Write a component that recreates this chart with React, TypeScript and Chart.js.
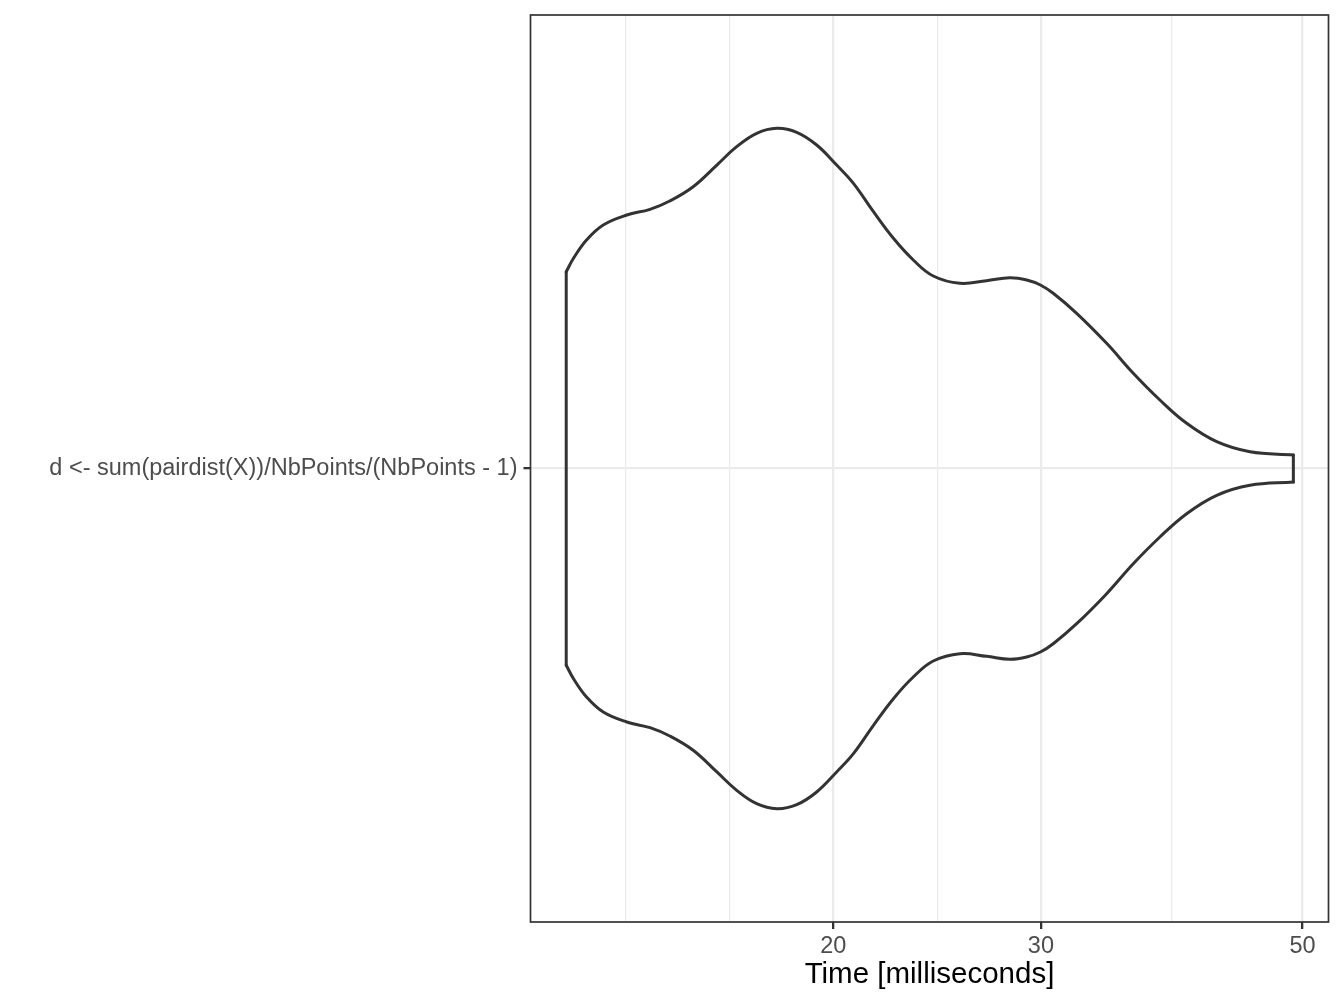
import { useEffect, useRef } from 'react';
import Chart from 'chart.js/auto';

// violin outline: time (ms) and half width (in category units)
const timeMs = [
  11.87, 12.04, 12.35, 12.76, 13.36, 13.98, 14.53, 15.21, 15.93, 16.56, 17.22, 17.91, 18.62, 19.36, 20.13, 20.8,
  21.63, 22.49, 23.38, 24.31, 25.61, 26.98, 28.24, 29.18, 29.97, 30.73, 32.17, 34.11, 35.93, 37.85, 39.88, 42.29,
  45.13, 49.12,
];
const halfWidth = [
  0.2604, 0.2781, 0.3023, 0.3222, 0.3354, 0.3429, 0.3539, 0.3728, 0.4015, 0.4258, 0.4435, 0.4501, 0.4448, 0.428,
  0.4015, 0.3773, 0.3398, 0.3046, 0.2759, 0.2547, 0.245, 0.2485, 0.2524, 0.2494, 0.2428, 0.2318, 0.2053, 0.1656,
  0.126, 0.0906, 0.0598, 0.0355, 0.0222, 0.0179,
];

const categories = ['d <- sum(pairdist(X))/NbPoints/(NbPoints - 1)'];
const majorTicks = [20, 30, 50];
const minorTicks = [13.333, 16.33, 24.495, 38.73];

const INK = '#333333';
const GRID = '#EBEBEB';
const FONT = "'Liberation Sans', Arial, sans-serif";

const panelBorder = {
  id: 'panelBorder',
  afterDraw(chart: any) {
    const { left, top, right, bottom } = chart.chartArea;
    const ctx = chart.ctx;
    ctx.save();
    ctx.strokeStyle = INK;
    ctx.lineWidth = 1.7;
    ctx.strokeRect(left, top, right - left, bottom - top);
    ctx.restore();
  },
};

const App = () => {
  const canvasRef = useRef<HTMLCanvasElement | null>(null);

  useEffect(() => {
    if (!canvasRef.current) return;

    const upper = timeMs.map((t, i) => ({ x: t, y: 1 + halfWidth[i] }));
    const lower = timeMs.map((t, i) => ({ x: t, y: 1 - halfWidth[i] }));
    const last = timeMs.length - 1;
    const leftEdge = [
      { x: timeMs[0], y: 1 + halfWidth[0] },
      { x: timeMs[0], y: 1 - halfWidth[0] },
    ];
    const rightEdge = [
      { x: timeMs[last], y: 1 + halfWidth[last] },
      { x: timeMs[last], y: 1 - halfWidth[last] },
    ];

    const line = {
      showLine: true,
      borderColor: INK,
      borderWidth: 3,
      pointRadius: 0,
      borderCapStyle: 'round',
      borderJoinStyle: 'round',
    };

    const allTicks = [...minorTicks, ...majorTicks].sort((a, b) => a - b);
    const isMajor = (v: number) => majorTicks.includes(v);

    const chart = new Chart(canvasRef.current, {
      type: 'scatter',
      data: {
        datasets: [
          { ...line, data: upper, tension: 0.4 },
          { ...line, data: lower, tension: 0.4 },
          { ...line, data: leftEdge, tension: 0 },
          { ...line, data: rightEdge, tension: 0 },
        ] as any,
      },
      options: {
        animation: false,
        responsive: true,
        maintainAspectRatio: false,
        layout: { padding: { left: 0, top: 15, right: 15.5, bottom: 0 } },
        plugins: { legend: { display: false }, tooltip: { enabled: false } },
        scales: {
          x: {
            type: 'logarithmic',
            min: 11.07,
            max: 52.61,
            afterFit: (scale: any) => {
              scale.height = 86;
              scale.paddingLeft = 0;
              scale.paddingRight = 0;
            },
            afterBuildTicks: (scale: any) => {
              scale.ticks = allTicks.map((v) => ({ value: v }));
            },
            border: { display: false },
            grid: {
              color: GRID,
              lineWidth: (ctx: any) => (isMajor(ctx.tick?.value) ? 2.3 : 1.2),
              tickColor: (ctx: any) => (isMajor(ctx.tick?.value) ? INK : 'rgba(0,0,0,0)'),
              tickLength: 7,
              tickWidth: 2.3,
            },
            ticks: {
              autoSkip: false,
              maxRotation: 0,
              padding: 3,
              color: '#4D4D4D',
              font: { family: FONT, size: 23.5 },
              callback: (v: any) => (isMajor(v) ? String(v) : ''),
            },
            title: {
              display: true,
              text: 'Time [milliseconds]',
              color: '#000000',
              font: { family: FONT, size: 29.5 },
              padding: { top: 0, bottom: 15.6 },
            },
          },
          y: {
            type: 'linear',
            min: 0.4,
            max: 1.6,
            afterFit: (scale: any) => {
              scale.width = 530.5;
              scale.paddingTop = 0;
              scale.paddingBottom = 0;
            },
            afterBuildTicks: (scale: any) => {
              scale.ticks = categories.map((_, i) => ({ value: i + 1 }));
            },
            border: { display: false },
            grid: {
              color: GRID,
              lineWidth: 2.3,
              tickColor: INK,
              tickLength: 7,
              tickWidth: 2.3,
            },
            ticks: {
              autoSkip: false,
              padding: 6,
              color: '#4D4D4D',
              font: { family: FONT, size: 23.5 },
              callback: (v: any) => categories[Math.round(v) - 1] ?? '',
            },
          },
        },
      } as any,
      plugins: [panelBorder],
    });

    return () => {
      chart.destroy();
    };
  }, []);

  return (
    <div style={{ position: 'absolute', left: 0, top: 0, width: 1344, height: 1008, background: '#ffffff' }}>
      <canvas ref={canvasRef} />
    </div>
  );
};

export default App;
